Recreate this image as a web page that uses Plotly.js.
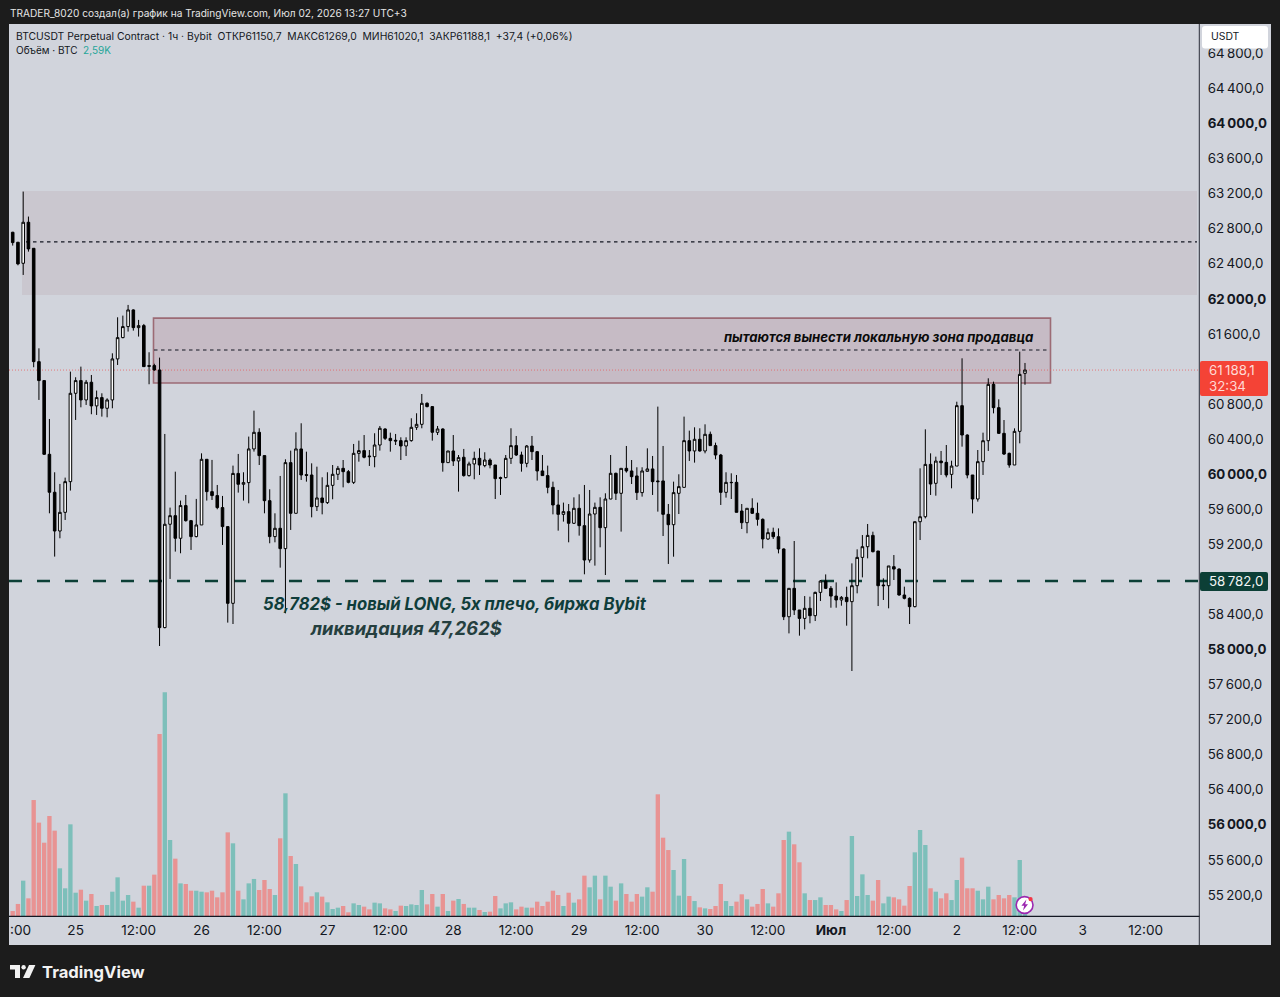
<!DOCTYPE html>
<html><head><meta charset="utf-8">
<script src="https://cdn.plot.ly/plotly-3.0.1.min.js"></script>
<style>html,body{margin:0;padding:0;background:#1c1c1c}#c{width:1280px;height:997px}</style>
</head><body><div id="c"></div>
<script>
const opens=[62760,62646,62406,62874,62577,61284,61068,60227,59794,59352,
59565,59915,60923,61068,60847,61049,60779,60874,60752,60847,
61315,61558,61684,61874,61672,61695,61239,61239,61189,58250,
59429,59527,59269,59642,59470,59288,59421,60170,59801,59756,
59619,59402,58527,60009,59885,59904,60288,60478,60212,59698,
59288,59383,59151,60132,59554,60288,59995,59991,59630,59729,
59676,59873,59999,60067,60029,59907,60238,60269,60208,60200,
60333,60516,60409,60387,60383,60322,60383,60535,60569,60809,
60771,60478,60516,60132,60265,60151,60193,59984,60117,60181,
60098,60162,60105,59961,59961,60181,60326,60219,60124,60322,
60257,60037,59984,59850,59649,59542,59573,59440,59611,59413,
59021,59546,59622,59390,59717,60010,59782,60067,60037,59980,
59790,60033,60060,59923,59923,59542,59424,59782,59850,60383,
60265,60398,60265,60455,60326,60219,59793,59907,59907,59580,
59447,59611,59554,59485,59261,59337,59287,59147,58374,58698,
58451,58355,58470,58386,58652,58781,58698,58610,58565,58595,
58546,58728,59051,59173,59302,59124,58736,58728,58945,58918,
58622,58584,58489,59458,59515,60112,59896,60150,60135,59998,
60093,60782,60447,59991,59717,60143,60382,61025,60759,60466,
60238,60105,60489,61150.7];
const highs=[62765,62650,63224,62939,62580,61436,61068,60630,60022,59889,
59961,61170,61106,61227,61075,61132,60954,60923,60866,61379,
61790,61809,61931,61881,61760,61714,61391,61260,61330,60459,
59619,60029,59699,59763,59478,59718,60238,60170,60163,59877,
59752,59402,60098,60231,60022,60429,60725,60524,60212,59828,
59554,59980,60170,60269,60478,60581,60257,60124,60086,59965,
60022,60105,60094,60162,60048,60345,60383,60447,60276,60467,
60550,60524,60474,60459,60421,60421,60638,60695,60915,60820,
60778,60550,60524,60265,60447,60219,60288,60143,60257,60295,
60250,60181,60105,59972,60219,60524,60436,60257,60333,60436,
60265,60219,60098,59915,59820,59676,59660,59736,59771,59877,
59820,59676,59736,59782,60219,60018,60067,60322,60162,60079,
60079,60295,60208,60771,60322,59660,59915,59999,60657,60497,
60535,60524,60569,60486,60360,60231,60022,60010,59991,59660,
59611,59725,59676,59496,59382,59390,59382,59154,58698,59238,
58451,58610,58603,58660,58793,58857,58724,58766,58610,58717,
58983,59143,59306,59432,59344,59124,58812,58953,59078,58926,
58717,58595,59458,60067,60512,60238,60200,60265,60333,60154,
60827,61322,60455,59991,60276,60474,61094,61056,60854,60618,
60246,60523,61398,61269];
const lows=[62608,62383,62273,62539,61220,60847,60220,59554,59060,59269,
59478,59813,60619,60763,60790,60684,60676,60657,60649,60752,
61246,61551,61627,61638,61570,61227,61026,61180,58040,58242,
58805,59117,59098,59459,59136,59280,59421,59699,59706,59600,
59193,58307,58291,59790,59699,59668,60258,60105,59554,59212,
59223,58934,58413,59364,59554,59934,59915,59508,59580,59542,
59660,59714,59934,59850,59896,59888,60143,60181,60094,60079,
60269,60390,60257,60333,60162,60208,60371,60505,60524,60763,
60383,60447,60029,60132,60094,59801,59972,59972,59942,59991,
60079,60067,59717,59763,59953,60117,60208,60029,60079,60162,
59927,59980,59782,59542,59356,59459,59223,59432,59299,58858,
58991,58957,59166,58850,59714,59706,59345,60018,59888,59706,
59744,60029,59763,59573,59295,58976,59059,59546,59850,60151,
60132,60257,60238,60326,60170,59649,59733,59717,59565,59375,
59326,59546,59413,59154,59249,59261,59097,58336,58184,58394,
58158,58230,58299,58325,58553,58690,58477,58477,58500,58272,
57755,58641,58823,59040,59108,58496,58565,58470,58793,58614,
58572,58291,58481,59249,59496,59763,59755,59991,59964,59839,
60093,60314,59953,59553,59687,59991,60265,60694,60459,60219,
60074,60105,60352,61020.1];
const closes=[62642,62399,62874,62570,61284,61068,60227,59794,59352,59565,
59915,60923,61068,60847,61049,60779,60874,60752,60847,61315,
61558,61684,61874,61672,61695,61227,61231,61189,58250,59429,
59527,59269,59642,59470,59288,59421,60170,59801,59756,59619,
59402,58527,60009,59885,59904,60288,60478,60212,59698,59288,
59383,59151,60132,59554,60288,59991,59987,59630,59729,59676,
59873,59999,60067,60029,59907,60238,60269,60193,60200,60333,
60524,60409,60383,60379,60322,60383,60535,60569,60809,60771,
60478,60516,60132,60265,60151,60189,59984,60117,60181,60105,
60162,60105,59949,59953,60181,60326,60219,60124,60322,60257,
60037,59984,59850,59649,59542,59573,59440,59611,59413,59021,
59546,59622,59390,59717,60010,59782,60067,60037,59972,59790,
60037,60060,59915,59915,59542,59424,59790,59858,60383,60265,
60398,60265,60455,60326,60219,59793,59907,59904,59565,59447,
59611,59554,59485,59261,59333,59287,59147,58374,58698,58451,
58355,58470,58386,58652,58781,58698,58610,58565,58595,58546,
58728,59051,59173,59302,59116,58728,58728,58953,58918,58622,
58584,58489,59458,59515,60112,59888,60150,60131,59991,60093,
60782,60447,59991,59717,60143,60382,61025,60759,60466,60230,
60105,60489,61139,61188.1];
const volumes=[650,1560,4580,2290,15030,12100,9500,12960,11060,6180,
3590,11880,3020,3410,1990,2850,1300,1430,1430,3150,
5010,1990,2720,1860,1080,3930,3930,5360,23590,28990,
9850,7430,4230,4150,3280,3280,3150,3070,3280,2420,
3070,10840,9420,3280,2160,4230,4800,3370,4670,3500,
2720,10070,15900,7780,6740,3840,1770,2550,3070,2510,
1770,910,1080,1300,480,1640,1430,1210,860,1730,
1640,990,860,650,1340,1300,1510,1430,3370,1510,
2850,1210,2850,650,1990,2200,1560,1080,1080,780,
520,560,2590,990,1640,1770,860,1210,1080,1080,
1860,1300,1860,3280,2720,1300,3020,1730,2160,5230,
3720,5230,2160,5230,3800,1990,4230,2850,1860,2850,
2510,3720,3150,15770,10150,8550,5960,2640,7390,2590,
1940,1120,990,910,1300,4150,1940,1300,1860,2810,
2160,1210,1560,3500,1640,1210,2940,9850,10930,9290,
6960,2940,2070,2070,2420,1430,1430,860,650,2070,
10370,2590,5400,2720,1990,4670,1640,2510,2420,2160,
1340,3890,8250,11150,9200,3590,3150,2290,2940,2070,
4670,7560,3590,3590,3280,2160,3800,2160,2720,2290,
2720,2420,7260,2590];
const volumeUp=[0,0,1,0,0,0,0,0,0,1,
1,1,1,0,1,0,1,0,1,1,
1,1,1,0,1,0,1,0,0,1,
1,0,1,0,0,1,1,0,0,0,
0,0,1,0,1,1,1,0,0,0,
1,0,1,0,1,0,0,0,1,0,
1,1,1,0,0,1,1,0,0,1,
1,0,0,1,0,1,1,1,1,0,
0,1,0,1,0,1,0,1,1,0,
1,0,0,1,1,1,0,0,1,0,
0,0,0,0,0,1,0,1,0,0,
1,1,0,1,1,0,1,0,0,0,
1,1,0,0,0,0,1,1,1,0,
1,0,1,0,0,0,1,1,0,0,
1,0,0,0,1,0,0,0,1,0,
0,1,0,1,1,0,0,0,1,0,
1,1,1,1,0,0,1,1,0,0,
0,0,1,1,1,0,1,0,0,1,
1,0,0,0,1,1,1,0,0,0,
0,1,1,1];
const xTickHours=[24,36,48,60,72,84,96,108,120,132,144,156,168,180,192,204,216,12];
const xTickLabels=['12:00','26','12:00','27','12:00','28','12:00','29','12:00','30','12:00','<b>Июл</b>','12:00','2','12:00','3','12:00','25'];
const yTickPrices=[55200,55600,56000,56400,56800,57200,57600,58000,58400,59200,59600,60000,60400,60800,61600,62000,62400,62800,63200,63600,64000,64400,64800];
const zoneUpper=[63232,62045], zoneUpperMid=62650;
const zoneLocal=[61781,61041], zoneLocalMid=61417;
const entryPrice=58782, lastPrice=61188.1;

const W=1280,H=997,L=9,R=1199,T=24,B=916;
const FONT='Inter, "Noto Sans", sans-serif';
const INK='#131722', PANEL='#d1d4dc', DARK='#1c1c1c';
const px=x=>(x-L)/(R-L), py=y=>(B-y)/(B-T);
const t0=Date.UTC(2026,5,24,12);
const hourAt=h=>new Date(t0+h*3600e3).toISOString().slice(0,19).replace('T',' ');
const times=opens.map((_,i)=>hourAt(i));
const hourOfPx=x=>(x-12.7)/5.245;
const priceOfPx=y=>60000+(474.2-y)/0.08766;
const fmt=p=>{const s=p.toFixed(1).replace('.',',');return s.slice(0,-5)+'\u2009'+s.slice(-5);};

const rect=(x0,y0,x1,y1,fill,layer)=>({type:'rect',xref:'paper',yref:'paper',x0:px(x0),x1:px(x1),y0:py(y0),y1:py(y1),fillcolor:fill,line:{width:0},layer:layer||'above'});
const poly=(pts,fill)=>({type:'path',xref:'paper',yref:'paper',path:'M'+pts.map(p=>px(p[0])+','+py(p[1])).join('L')+'Z',fillcolor:fill,line:{width:0},layer:'above'});
const round=(x0,y0,x1,y1,r,fill)=>({type:'path',xref:'paper',yref:'paper',layer:'above',fillcolor:fill,line:{width:0},
 path:`M${px(x0+r)},${py(y0)}L${px(x1-r)},${py(y0)}Q${px(x1)},${py(y0)} ${px(x1)},${py(y0+r)}L${px(x1)},${py(y1-r)}Q${px(x1)},${py(y1)} ${px(x1-r)},${py(y1)}L${px(x0+r)},${py(y1)}Q${px(x0)},${py(y1)} ${px(x0)},${py(y1-r)}L${px(x0)},${py(y0+r)}Q${px(x0)},${py(y0)} ${px(x0+r)},${py(y0)}Z`});
const circle=(cx,cy,r,fill,lc,lw)=>({type:'circle',xref:'paper',yref:'paper',x0:px(cx-r),x1:px(cx+r),y0:py(cy+r),y1:py(cy-r),fillcolor:fill,line:{color:lc||fill,width:lw||0},layer:'above'});
const hline=(h0,h1,p,color,width,dash)=>({type:'line',xref:'x',yref:'y',x0:hourAt(h0),x1:hourAt(h1),y0:p,y1:p,line:{color,width,dash},layer:'below'});

const xLeft=hourOfPx(L), xRight=hourOfPx(R);
const shapes=[
 rect(R,T,1271,945,PANEL,'below'),
 rect(L,B,1271,945,PANEL,'below'),
 {type:'rect',xref:'x',yref:'y',x0:hourAt(hourOfPx(22)),x1:hourAt(hourOfPx(1197)),y0:zoneUpper[1],y1:zoneUpper[0],fillcolor:'rgba(185,170,178,0.30)',line:{width:0},layer:'below'},
 hline(hourOfPx(26),hourOfPx(1197),zoneUpperMid,'#131722',1.1,'3.5px,3.5px'),
 {type:'rect',xref:'x',yref:'y',x0:hourAt(hourOfPx(153.5)),x1:hourAt(hourOfPx(1050.5)),y0:zoneLocal[1],y1:zoneLocal[0],fillcolor:'rgba(165,115,130,0.26)',line:{color:'#9c6b75',width:1.6},layer:'below'},
 hline(hourOfPx(154),hourOfPx(1050),zoneLocalMid,'#131722',1.1,'3.5px,3.5px'),
 hline(xLeft,xRight,lastPrice,'rgba(235,90,90,0.75)',1,'1px,2px'),
 hline(xLeft,xRight,entryPrice,'#0c3f36',2.6,'13px,15px'),
 rect(L,B-0.2,1199.6,B+0.9,'#131722','above'),
 rect(R-0.2,T,R+0.8,945,'#2a2e39','above'),
 round(1202,26,1268,48.5,3,'#ffffff'),
 round(1200,361,1268,396,2,'#f44336'),
 round(1200,572,1268,591,2,'#0c3f36'),
 poly([[10,965],[20,965],[20,978],[15,978],[15,969.6],[10,969.6]],'#f2f2f2'),
 circle(23.6,967.2,2.2,'#f2f2f2'),
 poly([[29,965],[35.4,965],[29.4,978],[23,978]],'#f2f2f2'),
 circle(1024.6,905,8.4,'#ffffff','#9c27b0',1.6),
 poly([[1026.4,899.6],[1021.4,905.8],[1024.2,905.8],[1023,910.4],[1028,904.2],[1025.2,904.2]],'#9c27b0'),
 circle(1030.6,899.2,2.1,'#f23645')
];
const note=(x,y,text,size,color,extra)=>Object.assign({xref:'paper',yref:'paper',x:px(x),y:py(y),text,showarrow:false,xanchor:'left',yanchor:'middle',align:'left',font:{family:FONT,size,color},borderpad:0},extra||{});
const annotations=[
 note(9,13,'TRADER_8020 создал(а) график на TradingView.com, Июл 02, 2026 13:27 UTC+3',10.15,'#e4e4e4'),
 note(15,36,'BTCUSDT Perpetual Contract · 1ч · Bybit &nbsp;ОТКР61150,7 &nbsp;МАКС61269,0 &nbsp;МИН61020,1 &nbsp;ЗАКР61188,1 &nbsp;+37,4 (+0,06%)',10.35,INK),
 note(15,50,'Объём · BTC &nbsp;<span style="color:#26a69a">2,59K</span>',10,INK),
 note(1210,37,'USDT',10.4,INK),
 note(1208,370,fmt(lastPrice),13.3,'#ffd9d4'),
 note(1208,386,'32:34',13.3,'#ffd9d4'),
 note(1208,581,fmt(entryPrice),13.3,'#f2f5f4'),
 note(723,337,'<b><i>пытаются вынести локальную зона продавца</i></b>',13.2,'#0b0b0b'),
 note(261.5,604,'<b><i>58,782$ - новый LONG, 5x плечо, биржа Bybit</i></b>',16.65,'#0f3d3a'),
 note(308.5,628,'<b><i>ликвидация 47,262$</i></b>',18.3,'#253f3f'),
 note(9,930,':00',13.6,INK),
 note(41,972,'<b>TradingView</b>',16.6,'#f2f2f2')
];

const data=[
 {type:'candlestick',x:times,open:opens,high:highs,low:lows,close:closes,xaxis:'x',yaxis:'y',
  increasing:{line:{color:'#000000',width:1},fillcolor:'#ffffff'},
  decreasing:{line:{color:'#000000',width:1},fillcolor:'#000000'},whiskerwidth:0,hoverinfo:'skip',showlegend:false},
 {type:'bar',x:times,y:volumes,xaxis:'x',yaxis:'y2',marker:{color:volumeUp.map(u=>u?'#7dbfba':'#e89393'),line:{width:0}},hoverinfo:'skip',showlegend:false}
];
const layout={
 width:W,height:H,margin:{l:L,r:W-R,t:T,b:H-B,pad:0},
 paper_bgcolor:DARK,plot_bgcolor:PANEL,showlegend:false,hovermode:false,dragmode:false,bargap:0.17,
 xaxis:{type:'date',range:[hourAt(xLeft),hourAt(xRight)],rangeslider:{visible:false},showgrid:false,zeroline:false,showline:false,
  tickmode:'array',tickvals:xTickHours.map(hourAt),ticktext:xTickLabels,ticks:'outside',ticklen:2,tickcolor:PANEL,tickfont:{family:FONT,size:13.6,color:INK},automargin:false,tickangle:0},
 yaxis:{side:'right',range:[priceOfPx(B),priceOfPx(T)],showgrid:false,zeroline:false,showline:false,
  tickmode:'array',tickvals:yTickPrices,ticktext:yTickPrices.map(p=>p%2000===0?'<b>'+fmt(p)+'</b>':fmt(p)),ticks:'outside',ticklen:5,tickcolor:PANEL,tickfont:{family:FONT,size:13.3,color:INK},automargin:false},
 yaxis2:{overlaying:'y',side:'right',range:[0,892*129.6],visible:false,showgrid:false,zeroline:false},
 shapes,annotations
};
if([highs,lows,closes,volumes,volumeUp].some(a=>a.length!==opens.length))console.error('length mismatch');
Plotly.newPlot('c',data,layout,{staticPlot:true,displayModeBar:false});
</script></body></html>
